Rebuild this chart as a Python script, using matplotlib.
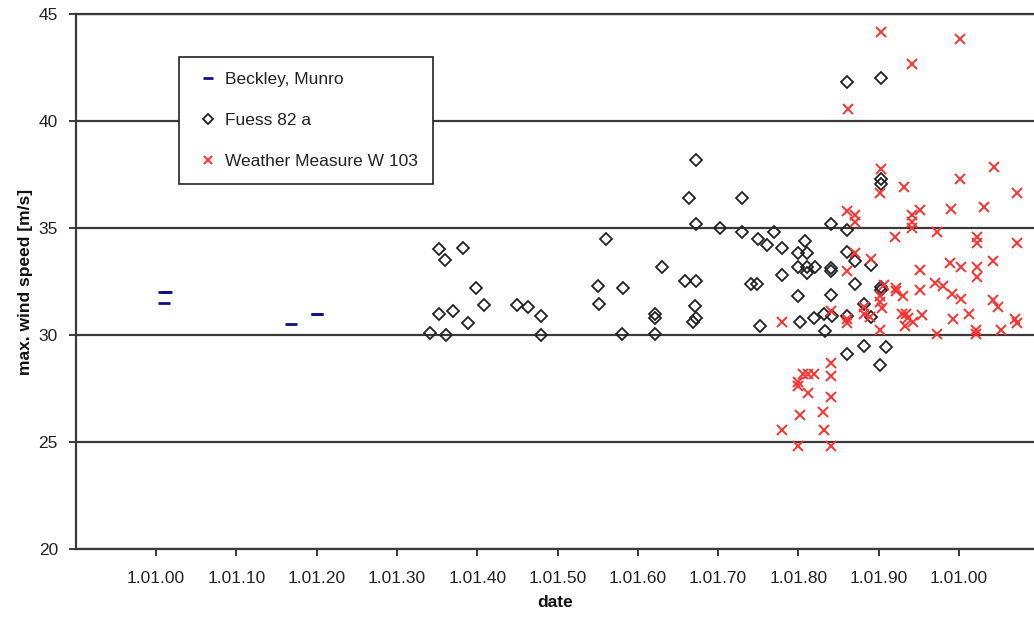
import matplotlib
matplotlib.use("Agg")
import matplotlib.pyplot as plt

plt.rcParams['font.family'] = ['Liberation Sans', 'DejaVu Sans']

# ---- data: (year, max. wind speed in m/s) ----
beckley_year = [1901.0, 1901.2, 1901.0, 1916.8, 1920.0, 1920.1]
beckley_speed = [32.0, 32.0, 31.5, 30.5, 31.0, 31.0]

fuess_year = [
    1934.1, 1935.2, 1935.2, 1936.0, 1936.1, 1937.0, 1938.2, 1938.9, 1939.9, 1940.9,
    1944.9, 1946.3, 1948.0, 1948.0, 1955.0, 1955.2, 1956.1, 1958.1, 1958.0, 1962.1,
    1962.1, 1962.1, 1963.0, 1965.9, 1966.4, 1967.2, 1967.1, 1967.2, 1966.9, 1967.3,
    1967.2, 1970.2, 1973.0, 1973.0, 1974.1, 1974.9, 1975.0, 1975.2, 1976.1, 1977.0,
    1977.9, 1977.9, 1980.0, 1980.0, 1980.0, 1980.2, 1980.8, 1981.1, 1981.1, 1981.1,
    1982.1, 1982.0, 1983.2, 1983.3, 1984.0, 1984.1, 1984.1, 1984.1, 1984.2, 1986.1,
    1986.1, 1986.1, 1986.1, 1986.1, 1987.0, 1987.0, 1988.2, 1988.2, 1989.0, 1989.0,
    1990.3, 1990.3, 1990.3, 1990.3, 1990.3, 1990.2, 1990.9,
]
fuess_speed = [
    30.1, 34.0, 31.0, 33.5, 30.0, 31.1, 34.05, 30.55, 32.2, 31.4,
    31.4, 31.3, 30.9, 30.0, 32.3, 31.45, 34.5, 32.2, 30.05, 31.0,
    30.8, 30.05, 33.2, 32.5, 36.4, 32.5, 31.35, 30.8, 30.6, 38.2,
    35.2, 35.0, 36.4, 34.8, 32.4, 32.4, 34.5, 30.4, 34.2, 34.8,
    34.05, 32.8, 33.85, 33.2, 31.8, 30.6, 34.4, 33.85, 33.2, 32.9,
    33.2, 30.8, 31.0, 30.2, 35.2, 33.15, 33.0, 31.85, 30.9, 41.8,
    34.9, 33.9, 30.9, 29.1, 33.45, 32.4, 31.45, 29.5, 33.25, 30.85,
    42.0, 37.3, 37.05, 32.25, 32.1, 28.6, 29.45,
]

wm_year = [
    1977.9, 1977.9, 1980.0, 1980.0, 1980.0, 1980.2, 1980.6, 1981.2, 1981.9, 1981.2,
    1983.1, 1983.2, 1984.0, 1984.1, 1984.1, 1984.1, 1984.1, 1986.2, 1986.1, 1986.1,
    1986.1, 1986.1, 1987.0, 1987.0, 1987.0, 1988.2, 1988.2, 1988.9, 1989.0, 1990.3,
    1990.3, 1990.2, 1990.6, 1990.2, 1990.2, 1990.4, 1990.2, 1992.0, 1992.2, 1992.2,
    1992.9, 1993.2, 1993.0, 1993.4, 1993.6, 1993.3, 1994.1, 1994.1, 1994.1, 1994.1,
    1994.3, 1995.1, 1995.1, 1995.1, 1995.4, 1997.3, 1997.0, 1998.0, 1997.3, 1999.0,
    1998.9, 1999.1, 1999.2, 2000.1, 2000.1, 2000.2, 2000.2, 2001.3, 2002.2, 2002.2,
    2002.2, 2002.2, 2002.1, 2002.1, 2003.1, 2004.3, 2004.2, 2004.2, 2004.9, 2005.2,
    2007.2, 2007.2, 2007.0, 2007.2,
]
wm_speed = [
    30.6, 25.55, 27.8, 27.6, 24.8, 26.25, 28.2, 28.2, 28.2, 27.3,
    26.4, 25.55, 31.1, 28.7, 28.1, 27.1, 24.8, 40.55, 35.8, 33.0,
    30.75, 30.55, 35.6, 35.3, 33.85, 31.3, 31.0, 30.85, 33.55, 44.15,
    37.75, 36.65, 32.35, 31.8, 31.55, 31.25, 30.25, 34.6, 32.2, 32.05,
    31.0, 36.9, 31.8, 31.0, 30.8, 30.4, 42.65, 35.6, 35.3, 35.0,
    30.6, 35.85, 33.05, 32.1, 30.95, 34.8, 32.45, 32.3, 30.05, 35.9,
    33.35, 31.9, 30.75, 43.85, 37.3, 33.2, 31.7, 31.0, 34.6, 34.3,
    33.2, 32.7, 30.25, 30.05, 36.0, 37.85, 33.45, 31.65, 31.3, 30.25,
    36.65, 34.3, 30.75, 30.55,
]

series_labels = ['Beckley, Munro', 'Fuess 82 a', 'Weather Measure W 103']

x_ticks = [1900, 1910, 1920, 1930, 1940, 1950, 1960, 1970, 1980, 1990, 2000]
x_ticklabels = ['1.01.00', '1.01.10', '1.01.20', '1.01.30', '1.01.40', '1.01.50',
                '1.01.60', '1.01.70', '1.01.80', '1.01.90', '1.01.00']
y_ticks = [20, 25, 30, 35, 40, 45]

# ---- figure ----
W, H = 1034, 620
fig = plt.figure(figsize=(W / 100, H / 100), dpi=100)
fig.patch.set_facecolor('white')
left_px, right_px, top_px, bottom_px = 76, 1034, 14, 549
ax = fig.add_axes([left_px / W, 1 - bottom_px / H,
                   (right_px - left_px) / W, (bottom_px - top_px) / H])

px_per_year = 8.03
x0 = 1900 - (156 - left_px) / px_per_year
ax.set_xlim(x0, x0 + (right_px - left_px) / px_per_year)
ax.set_ylim(20, 45)

line_col = '#3a3a3a'
ax.yaxis.grid(True, color=line_col, lw=1.6)
ax.set_axisbelow(True)
for side in ('left', 'bottom', 'top'):
    ax.spines[side].set_color(line_col)
    ax.spines[side].set_linewidth(1.6)
ax.spines['right'].set_visible(False)

ax.plot(beckley_year, beckley_speed, ls='none', marker='_', ms=9, mew=2.0,
        color='#10108a', label=series_labels[0])
ax.plot(fuess_year, fuess_speed, ls='none', marker='D', ms=6, mew=1.3,
        mfc='none', mec='#222222', label=series_labels[1])
ax.plot(wm_year, wm_speed, ls='none', marker='x', ms=6.5, mew=1.4,
        color='#ff3030', label=series_labels[2])

ax.set_xticks(x_ticks)
ax.set_xticklabels(x_ticklabels)
ax.set_yticks(y_ticks)
ax.tick_params(axis='x', direction='out', length=5, width=1.4, color=line_col,
               labelsize=12.5, pad=11, labelcolor='#222222')
ax.tick_params(axis='y', direction='out', length=5, width=1.4, color=line_col,
               labelsize=12.5, pad=8, labelcolor='#222222')

ax.set_xlabel('date', fontsize=12.5, fontweight='bold', labelpad=6, color='#111111')
ax.set_ylabel('max. wind speed [m/s]', fontsize=12.5, fontweight='bold',
              labelpad=4, color='#111111')

leg = ax.legend(loc='upper left',
                bbox_to_anchor=((179 - left_px) / (right_px - left_px),
                                (bottom_px - 57) / (bottom_px - top_px)),
                borderaxespad=0, fontsize=12.5, frameon=True, fancybox=False,
                framealpha=1, edgecolor='#222222', handlelength=1.6,
                handletextpad=0.2, labelspacing=1.5, borderpad=0.85,
                markerscale=0.8)
leg.get_frame().set_linewidth(1.2)
for t in leg.get_texts():
    t.set_color('#222222')

fig.savefig('out.png', dpi=100, facecolor='white')
